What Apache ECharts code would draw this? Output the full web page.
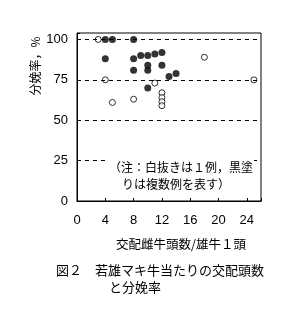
<!DOCTYPE html>
<html><head><meta charset="utf-8">
<script src="https://cdn.jsdelivr.net/npm/echarts@6/dist/echarts.min.js"></script>
<style>html,body{margin:0;padding:0;background:#fff}#c{width:301px;height:321px}</style>
</head><body><div id="c"></div>
<script>
var xTicks = [0, 4, 8, 12, 16, 20, 24];
var yTicks = [0, 25, 50, 75, 100];
// 黒塗り（複数例）
var filledPoints = [[4,100],[5,100],[8,100],[4,88],[8,88],[8,81],[9,90],[10,90],[11,91],[12,92],[10,84],[10,81],[12,84],[13,77],[14,79],[10,70]];
// 白抜き（1例）
var openPoints = [[3,100],[18,89],[4,75],[11,73],[25,75],[5,61],[8,63],[12,67],[12,64],[12,61.5],[12,59]];
var xTitle = '交配雌牛頭数/雄牛１頭';
var yTitle = '分娩率，%';
var note1 = '（注：白抜きは１例，黒塗';
var note2 = 'りは複数例を表す）';
var cap1 = '図２　若雄マキ牛当たりの交配頭数';
var cap2 = 'と分娩率';

var JP = '"Noto Sans CJK JP", sans-serif';
var NUM = '"Liberation Sans", Arial, sans-serif';
var chart = echarts.init(document.getElementById('c'), null, {renderer: 'canvas'});
chart.setOption({
  animation: false,
  backgroundColor: '#fff',
  grid: {left: 77, right: 40, top: 33, bottom: 120, show: true, borderColor: '#000', borderWidth: 1, backgroundColor: 'transparent'},
  xAxis: {
    type: 'value', min: 0, max: 26, interval: 4,
    axisLine: {show: true, lineStyle: {color: '#000', width: 1}},
    axisTick: {show: true, inside: true, length: 3, lineStyle: {color: '#000'}},
    axisLabel: {color: '#000', fontSize: 13, fontFamily: NUM, margin: 13,
      formatter: function (v) { return xTicks.indexOf(v) >= 0 ? String(v) : ''; }},
    splitLine: {show: false}
  },
  yAxis: {
    type: 'value', min: 0, max: 104, interval: 25,
    axisLine: {show: true, lineStyle: {color: '#000', width: 1}},
    axisTick: {show: true, inside: true, length: 3, lineStyle: {color: '#000'}},
    axisLabel: {color: '#000', fontSize: 13, fontFamily: NUM, margin: 9,
      formatter: function (v) { return yTicks.indexOf(v) >= 0 ? String(v) : ''; }},
    splitLine: {show: false}
  },
  series: [
    {
      type: 'line', data: [], silent: true,
      markLine: {
        symbol: 'none', silent: true, label: {show: false},
        lineStyle: {color: '#000', type: [4, 4], width: 1},
        data: yTicks.filter(function (v) { return v > 0; }).map(function (v) { return {yAxis: v}; })
      }
    },
    {
      type: 'scatter', data: openPoints, symbol: 'circle', symbolSize: 6,
      itemStyle: {color: '#fff', borderColor: '#000', borderWidth: 1}, z: 3
    },
    {
      type: 'scatter', data: filledPoints, symbol: 'circle', symbolSize: 7,
      itemStyle: {color: '#000'}, z: 4
    }
  ],
  graphic: [
    {type: 'rect', shape: {x: 108, y: 157, width: 146, height: 34}, style: {fill: '#fff'}, z: 100},
    {type: 'text', x: 181, y: 167, z: 101, style: {text: note1, fill: '#000', font: '12px ' + JP, textAlign: 'center', textVerticalAlign: 'middle'}},
    {type: 'text', x: 176, y: 184, z: 101, style: {text: note2, fill: '#000', font: '12px ' + JP, textAlign: 'center', textVerticalAlign: 'middle'}},
    {type: 'text', x: 35, y: 66, rotation: Math.PI / 2, z: 101, style: {text: yTitle, fill: '#000', font: '12px ' + JP, textAlign: 'center', textVerticalAlign: 'middle'}},
    {type: 'text', x: 181, y: 244, z: 101, style: {text: xTitle, fill: '#000', font: '12.5px ' + JP, textAlign: 'center', textVerticalAlign: 'middle'}},
    {type: 'text', x: 56, y: 270, z: 101, style: {text: cap1, fill: '#000', font: '13px ' + JP, textAlign: 'left', textVerticalAlign: 'middle'}},
    {type: 'text', x: 109, y: 287, z: 101, style: {text: cap2, fill: '#000', font: '13px ' + JP, textAlign: 'left', textVerticalAlign: 'middle'}}
  ]
});
</script></body></html>
